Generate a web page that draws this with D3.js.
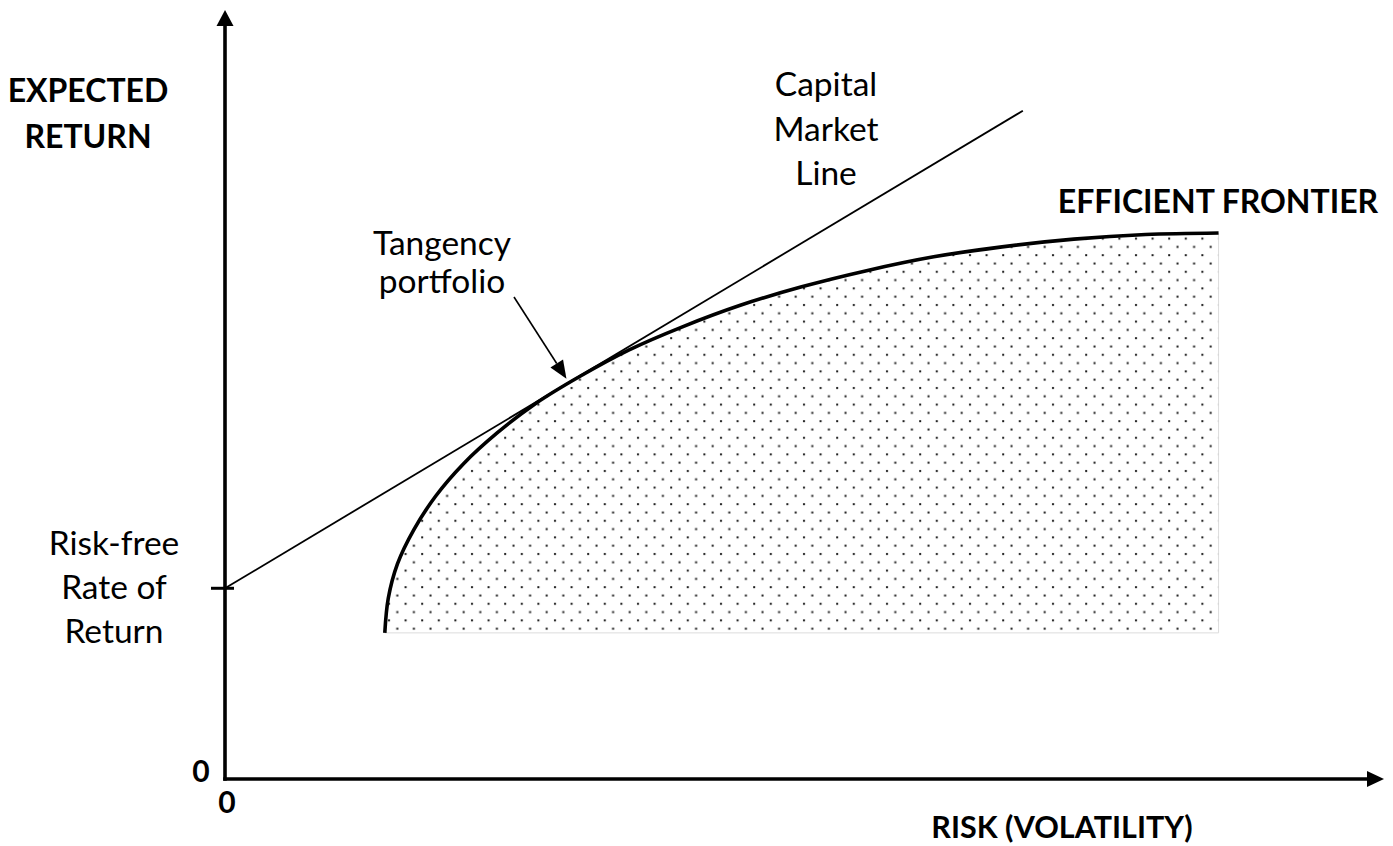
<!DOCTYPE html>
<html>
<head>
<meta charset="utf-8">
<script src="https://cdn.jsdelivr.net/npm/d3@7"></script>
<style>
  html, body { margin: 0; padding: 0; background: #fff; }
  svg { display: block; }
  text { font-family: Lato, "Open Sans", sans-serif; fill: #000; }
</style>
</head>
<body>
<svg id="chart" width="1393" height="846"></svg>
<script>
// ---- Data (chart units: risk on x, expected return on y) ----
const frontierRisk   = [1.38, 1.41, 1.49, 1.63, 1.82, 2.06, 2.35, 2.68, 3.07, 3.49, 3.95, 4.45, 4.98, 5.54, 6.12, 6.71, 7.33, 7.95, 8.58];
const frontierReturn = [1.90, 2.35, 2.80, 3.24, 3.68, 4.10, 4.50, 4.88, 5.24, 5.58, 5.88, 6.16, 6.40, 6.61, 6.79, 6.92, 7.02, 7.08, 7.10];
const riskFreeRate = 2.48;
const cmlRisk   = [0, 6.89];
const cmlReturn = [2.48, 8.69];
const tangencyRisk = 2.94, tangencyReturn = 5.18;
const axisTickLabels = ["0", "0"];

const svg = d3.select("#chart");
const x = d3.scaleLinear().domain([0, 10]).range([225, 1383]);
const y = d3.scaleLinear().domain([0, 10]).range([779, 10]);

// dotted pattern
const defs = svg.append("defs");
const pat = defs.append("pattern").attr("id", "dots").attr("patternUnits", "userSpaceOnUse")
  .attr("width", 16.6).attr("height", 16.6).attr("x", 385).attr("y", 633);
[[4, 4], [12.3, 12.3]].forEach(([cx, cy]) => {
  pat.append("rect").attr("x", cx - 1).attr("y", cy - 1).attr("width", 2).attr("height", 2).attr("fill", "#1a1a1a");
});

const frontier = frontierRisk.map((r, i) => [r, frontierReturn[i]]);
const floorY = frontierReturn[0];
const lastR = frontierRisk[frontierRisk.length - 1];

// shaded region
const regionPts = frontier.concat([[lastR, floorY]]);
svg.append("path")
  .attr("d", d3.line().x(d => x(d[0])).y(d => y(d[1])).curve(d3.curveLinearClosed)(regionPts))
  .attr("fill", "url(#dots)").attr("stroke", "none");
// light border bottom/right
svg.append("path")
  .attr("d", d3.line().x(d => x(d[0])).y(d => y(d[1]))([[frontierRisk[0], floorY], [lastR, floorY], [lastR, frontierReturn[frontierReturn.length - 1]]]))
  .attr("fill", "none").attr("stroke", "#dcdcdc").attr("stroke-width", 1);

// Capital Market Line
svg.append("line")
  .attr("x1", x(cmlRisk[0])).attr("y1", y(cmlReturn[0]))
  .attr("x2", x(cmlRisk[1])).attr("y2", y(cmlReturn[1]))
  .attr("stroke", "#000").attr("stroke-width", 1.8);

// Efficient frontier curve
svg.append("path")
  .attr("d", d3.line().x(d => x(d[0])).y(d => y(d[1])).curve(d3.curveCatmullRom)(frontier))
  .attr("fill", "none").attr("stroke", "#000").attr("stroke-width", 3.6);

// Axes
const x0 = x(0), y0 = y(0);
svg.append("line").attr("x1", x0).attr("y1", y0 + 1.75).attr("x2", x0).attr("y2", 22)
  .attr("stroke", "#000").attr("stroke-width", 3.6);
svg.append("line").attr("x1", x0 - 1.75).attr("y1", y0).attr("x2", 1370).attr("y2", y0)
  .attr("stroke", "#000").attr("stroke-width", 3.6);
svg.append("path").attr("d", `M${x0},10 L${x0 - 8.5},26 L${x0 + 8.5},26 Z`).attr("fill", "#000");
svg.append("path").attr("d", `M1384,${y0} L1367,${y0 - 8} L1367,${y0 + 8} Z`).attr("fill", "#000");

// risk-free tick
svg.append("line").attr("x1", x0 - 14).attr("x2", x0 + 9)
  .attr("y1", y(riskFreeRate)).attr("y2", y(riskFreeRate))
  .attr("stroke", "#000").attr("stroke-width", 3);

// tangency arrow
const tipX = x(tangencyRisk) + 1, tipY = y(tangencyReturn) - 2;
const sx = 514, sy = 297;
const ang = Math.atan2(tipY - sy, tipX - sx);
const hl = 18, hw = 7.5;
const bx = tipX - hl * Math.cos(ang), by = tipY - hl * Math.sin(ang);
svg.append("line").attr("x1", sx).attr("y1", sy).attr("x2", bx).attr("y2", by)
  .attr("stroke", "#000").attr("stroke-width", 1.6);
svg.append("path").attr("d",
  `M${tipX},${tipY} L${bx + hw * Math.sin(ang)},${by - hw * Math.cos(ang)} L${bx - hw * Math.sin(ang)},${by + hw * Math.cos(ang)} Z`)
  .attr("fill", "#000");

// Text
function label(lines, cx, baselines, size, weight) {
  lines.forEach((t, i) => {
    svg.append("text").attr("x", cx).attr("y", baselines[i]).attr("text-anchor", "middle")
      .attr("font-size", size).attr("font-weight", weight).text(t);
  });
}
label(["EXPECTED", "RETURN"], 88, [102, 148], 32, 700);
label(["RISK (VOLATILITY)"], 1062, [838], 30.5, 700);
label(["EFFICIENT FRONTIER"], 1218, [213], 32, 700);
label(["Capital", "Market", "Line"], 826, [96, 141, 185], 33.5, 400);
label(["Tangency", "portfolio"], 442, [255, 293], 33.5, 400);
label(["Risk-free", "Rate of", "Return"], 114, [555, 599, 643], 33.5, 400);
label([axisTickLabels[0]], 201, [782], 30, 700);
label([axisTickLabels[1]], 227, [813], 30, 700);
</script>
</body>
</html>
